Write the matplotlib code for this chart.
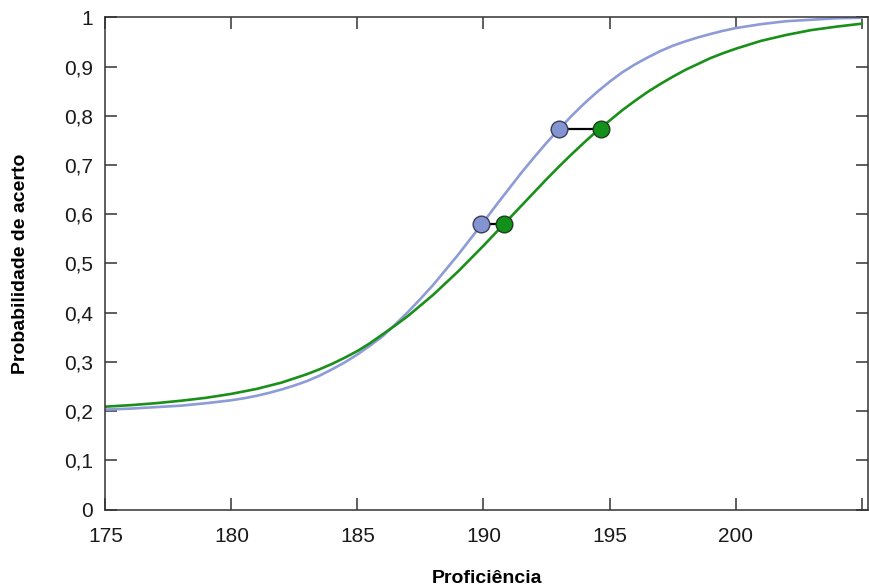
import numpy as np
import matplotlib
matplotlib.use('Agg')
import matplotlib.pyplot as plt

plt.rcParams['font.family'] = ['Liberation Sans', 'DejaVu Sans']

# valores (passo de 0,5)
proficiencia = [175 + 0.5 * i for i in range(61)]
prob_azul = [0.203, 0.204, 0.205, 0.2065, 0.208, 0.2095, 0.211, 0.2135, 0.216, 0.219,
             0.222, 0.226, 0.231, 0.237, 0.244, 0.252, 0.261, 0.272, 0.285, 0.299,
             0.315, 0.333, 0.352, 0.376, 0.401, 0.428, 0.456, 0.487, 0.518, 0.551,
             0.584, 0.618, 0.651, 0.684, 0.715, 0.745, 0.773, 0.800, 0.825, 0.848,
             0.869, 0.888, 0.904, 0.918, 0.931, 0.942, 0.951, 0.959, 0.966, 0.9725,
             0.978, 0.982, 0.986, 0.989, 0.992, 0.9935, 0.995, 0.9965, 0.998, 0.9985, 0.999]
prob_verde = [0.209, 0.2105, 0.212, 0.214, 0.216, 0.2185, 0.221, 0.224, 0.227, 0.231,
              0.235, 0.240, 0.245, 0.2515, 0.258, 0.2665, 0.275, 0.285, 0.296, 0.3085,
              0.322, 0.338, 0.356, 0.374, 0.393, 0.4145, 0.436, 0.460, 0.484, 0.510,
              0.536, 0.563, 0.590, 0.617, 0.644, 0.671, 0.697, 0.722, 0.746, 0.769,
              0.790, 0.811, 0.830, 0.848, 0.864, 0.879, 0.893, 0.905, 0.917, 0.927,
              0.936, 0.944, 0.952, 0.958, 0.964, 0.969, 0.974, 0.9775, 0.981, 0.984, 0.987]

# pontos marcados (azul -> verde)
pontos_azul_x = [189.9, 193.0]
pontos_verde_x = [190.8, 194.65]
pontos_y = [0.58, 0.773]

x_ticks = [175, 180, 185, 190, 195, 200]
y_ticks = [0, 0.1, 0.2, 0.3, 0.4, 0.5, 0.6, 0.7, 0.8, 0.9, 1]
y_labels = ['0', '0,1', '0,2', '0,3', '0,4', '0,5', '0,6', '0,7', '0,8', '0,9', '1']

cor_azul = '#8d9bd6'
cor_verde = '#1a8f1a'

fig = plt.figure(figsize=(8.69, 5.86), dpi=100)
ax = fig.add_axes([0.1212, 0.1305, 0.8776, 0.84])

ax.plot(proficiencia, prob_azul, color=cor_azul, lw=1.9, zorder=2)
ax.plot(proficiencia, prob_verde, color=cor_verde, lw=1.9, zorder=2)

for xa, xv, y in zip(pontos_azul_x, pontos_verde_x, pontos_y):
    ax.plot([xa, xv], [y, y], color='black', lw=1.6, zorder=3)
ax.plot(pontos_azul_x, pontos_y, 'o', ms=12, mfc='#8494d2', mec='#3a3f55', mew=1.0, zorder=4)
ax.plot(pontos_verde_x, pontos_y, 'o', ms=12, mfc='#12901a', mec='#1f3d1f', mew=1.0, zorder=4)

ax.set_xlim(175, 205.25)
ax.set_ylim(0, 1)
ax.set_xticks(x_ticks + [205])
ax.set_xticklabels([str(t) for t in x_ticks] + [''])
ax.set_yticks(y_ticks)
ax.set_yticklabels(y_labels)

ax.tick_params(direction='in', length=8.5, width=1.1, color='#333333',
               labelsize=15, labelcolor='#1a1a1a', pad=9, top=True, right=True)
ax.tick_params(axis='x', pad=12.5)

for s in ax.spines.values():
    s.set_color('#333333')
    s.set_linewidth(1.1)

ax.set_xlabel('Proficiência', fontsize=14, fontweight='bold')
ax.set_ylabel('Probabilidade de acerto', fontsize=14, fontweight='bold')
ax.xaxis.set_label_coords(0.5, -0.122)
ax.yaxis.set_label_coords(-0.100, 0.5)

fig.savefig('out.png', dpi=100)
